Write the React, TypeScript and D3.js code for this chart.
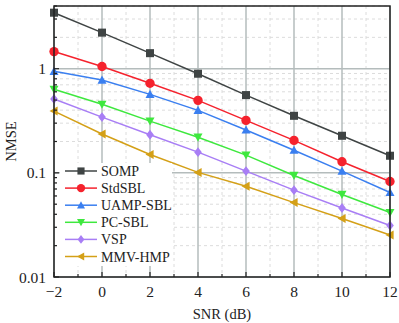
import React, { useEffect, useRef } from 'react';
import * as d3 from 'd3';

// SNR points (dB)
const snr = [-2, 0, 2, 4, 6, 8, 10, 12];

// NMSE
const somp = [3.45, 2.22, 1.41, 0.895, 0.558, 0.353, 0.227, 0.146];
const stdSbl = [1.46, 1.05, 0.724, 0.497, 0.319, 0.205, 0.128, 0.0826];
const uampSbl = [0.944, 0.778, 0.567, 0.398, 0.258, 0.165, 0.104, 0.0648];
const pcSbl = [0.634, 0.455, 0.314, 0.22, 0.148, 0.0944, 0.062, 0.0416];
const vsp = [0.511, 0.343, 0.232, 0.158, 0.104, 0.0682, 0.046, 0.0312];
const mmvHmp = [0.392, 0.236, 0.15, 0.101, 0.0745, 0.0518, 0.0364, 0.0253];

const seriesNames = ['SOMP', 'StdSBL', 'UAMP-SBL', 'PC-SBL', 'VSP', 'MMV-HMP'];
const seriesValues = [somp, stdSbl, uampSbl, pcSbl, vsp, mmvHmp];
const colors = ['#3f4444', '#f5222d', '#3a7ff0', '#3ee83e', '#a87ef5', '#d4a017'];
const markers = [d3.symbolSquare, d3.symbolCircle, 'up', 'down', d3.symbolDiamond, 'left'];

const xTicks = [-2, 0, 2, 4, 6, 8, 10, 12];
const yTicks = [0.01, 0.1, 1];
const yTickLabels = ['0.01', '0.1', '1'];

const font = 'Liberation Serif, Times New Roman, Times, serif';

function markerPath(m: any, size: number) {
  const r = size / 2;
  if (m === 'up') return `M0,${-r}L${r},${r * 0.8}L${-r},${r * 0.8}Z`;
  if (m === 'down') return `M0,${r}L${r},${-r * 0.8}L${-r},${-r * 0.8}Z`;
  if (m === 'left') return `M${-r},0L${r * 0.8},${-r}L${r * 0.8},${r}Z`;
  if (m === d3.symbolDiamond) return `M0,${-r * 1.1}L${r * 0.85},0L0,${r * 1.1}L${-r * 0.85},0Z`;
  return d3.symbol().type(m).size(size * size * (m === d3.symbolCircle ? 0.85 : 0.8))()!;
}

export default function App() {
  const ref = useRef<SVGSVGElement>(null);

  useEffect(() => {
    const W = 399, H = 323;
    const margin = { top: 6, right: 9, bottom: 46, left: 54 };
    const w = W - margin.left - margin.right;
    const h = H - margin.top - margin.bottom;

    const svg = d3.select(ref.current);
    svg.selectAll('*').remove();
    const g = svg.append('g').attr('transform', `translate(${margin.left},${margin.top})`);

    const x = d3.scaleLinear().domain([-2, 12]).range([0, w]);
    const y = d3.scaleLog().domain([0.01, 4]).range([h, 0]);

    // minor grid
    const minorY: number[] = [];
    [0.01, 0.1, 1].forEach(d => {
      for (let k = 2; k <= 9; k++) if (d * k <= 4) minorY.push(d * k);
    });
    const minorX = [-1, 1, 3, 5, 7, 9, 11];
    g.selectAll('.minY').data(minorY).enter().append('line')
      .attr('x1', 0).attr('x2', w).attr('y1', d => y(d)).attr('y2', d => y(d))
      .attr('stroke', '#dcdcdc').attr('stroke-width', 1).attr('stroke-dasharray', '3,3');
    g.selectAll('.minX').data(minorX).enter().append('line')
      .attr('y1', 0).attr('y2', h).attr('x1', d => x(d)).attr('x2', d => x(d))
      .attr('stroke', '#dcdcdc').attr('stroke-width', 1).attr('stroke-dasharray', '3,3');

    // major grid
    g.selectAll('.majY').data(yTicks).enter().append('line')
      .attr('x1', 0).attr('x2', w).attr('y1', d => y(d)).attr('y2', d => y(d))
      .attr('stroke', '#b4bcbc').attr('stroke-width', 1.5);
    g.selectAll('.majX').data(xTicks).enter().append('line')
      .attr('y1', 0).attr('y2', h).attr('x1', d => x(d)).attr('x2', d => x(d))
      .attr('stroke', '#b4bcbc').attr('stroke-width', 1.5);

    // lines + markers
    seriesValues.forEach((vals, i) => {
      const pts = vals.map((v, j) => [snr[j], v] as [number, number]);
      g.append('path').datum(pts)
        .attr('fill', 'none').attr('stroke', colors[i]).attr('stroke-width', 1.5)
        .attr('d', d3.line<[number, number]>().x(d => x(d[0])).y(d => y(d[1])));
      g.selectAll('.m' + i).data(pts).enter().append('path')
        .attr('transform', d => `translate(${x(d[0])},${y(d[1])})`)
        .attr('d', markerPath(markers[i], 9))
        .attr('fill', colors[i]);
    });

    // legend
    const lg = g.append('g').attr('transform', 'translate(6,157)');
    lg.append('rect').attr('x', 0).attr('y', 0).attr('width', 112).attr('height', 103).attr('fill', '#fff');
    seriesNames.forEach((name, i) => {
      const yy = 8 + i * 17.1;
      lg.append('line').attr('x1', 5).attr('x2', 37).attr('y1', yy).attr('y2', yy)
        .attr('stroke', colors[i]).attr('stroke-width', 1.5);
      lg.append('path').attr('transform', `translate(21,${yy})`)
        .attr('d', markerPath(markers[i], 8)).attr('fill', colors[i]);
      lg.append('text').attr('x', 41).attr('y', yy + 5).text(name)
        .attr('font-family', font).attr('font-size', 14).attr('fill', '#222');
    });

    // axes frame
    g.append('rect').attr('width', w).attr('height', h)
      .attr('fill', 'none').attr('stroke', '#222').attr('stroke-width', 1.5);

    // ticks inward
    g.selectAll('.xt').data(xTicks).enter().append('line')
      .attr('x1', d => x(d)).attr('x2', d => x(d)).attr('y1', h).attr('y2', h - 5)
      .attr('stroke', '#222').attr('stroke-width', 1.2);
    g.selectAll('.xmt').data(minorX).enter().append('line')
      .attr('x1', d => x(d)).attr('x2', d => x(d)).attr('y1', h).attr('y2', h - 3)
      .attr('stroke', '#222').attr('stroke-width', 1.2);
    g.selectAll('.yt').data(yTicks).enter().append('line')
      .attr('x1', 0).attr('x2', 5).attr('y1', d => y(d)).attr('y2', d => y(d))
      .attr('stroke', '#222').attr('stroke-width', 1.2);
    g.selectAll('.ymt').data(minorY).enter().append('line')
      .attr('x1', 0).attr('x2', 3).attr('y1', d => y(d)).attr('y2', d => y(d))
      .attr('stroke', '#222').attr('stroke-width', 1.2);

    // tick labels
    g.selectAll('.xl').data(xTicks).enter().append('text')
      .attr('x', d => x(d)).attr('y', h + 20).attr('text-anchor', 'middle')
      .attr('font-family', font).attr('font-size', 15.5).attr('fill', '#222')
      .text(d => (d < 0 ? '\u2212' + Math.abs(d) : String(d)));
    g.selectAll('.yl').data(yTicks).enter().append('text')
      .attr('x', -8).attr('y', d => y(d) + 5.5).attr('text-anchor', 'end')
      .attr('font-family', font).attr('font-size', 15.5).attr('fill', '#222')
      .text((d, i) => yTickLabels[i]);

    // axis titles
    g.append('text').attr('x', w / 2).attr('y', h + 42).attr('text-anchor', 'middle')
      .attr('font-family', font).attr('font-size', 14.5).attr('fill', '#222').text('SNR (dB)');
    g.append('text').attr('transform', `translate(-38,${h / 2}) rotate(-90)`)
      .attr('text-anchor', 'middle')
      .attr('font-family', font).attr('font-size', 14.5).attr('fill', '#222').text('NMSE');
  }, []);

  return (
    <svg ref={ref} width={399} height={323}
      style={{ position: 'absolute', left: 0, top: 0, background: '#fff' }} />
  );
}
